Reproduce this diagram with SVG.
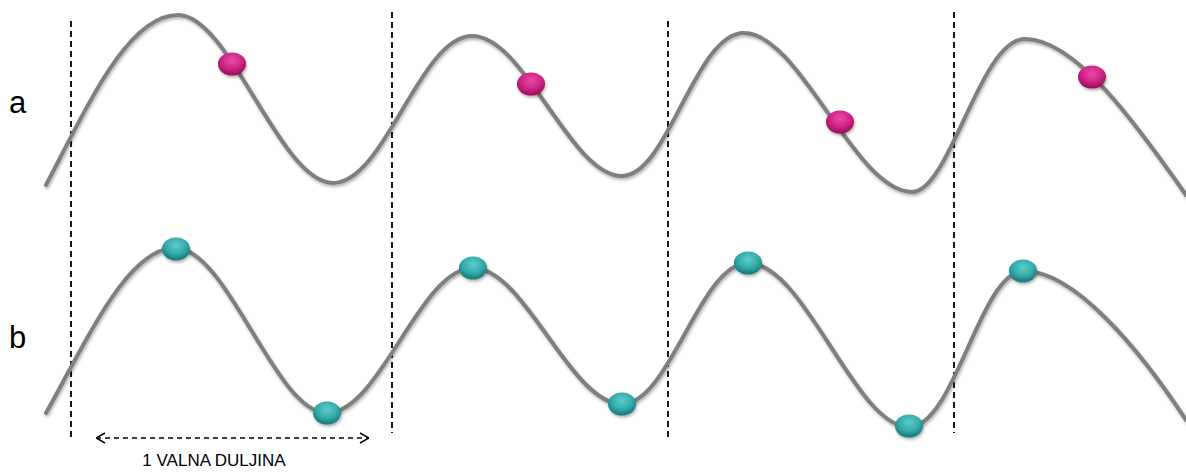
<svg xmlns="http://www.w3.org/2000/svg" width="1186" height="476" viewBox="0 0 1186 476">
<defs>
<filter id="sh" x="-10%" y="-10%" width="120%" height="130%">
<feDropShadow dx="1" dy="2" stdDeviation="1.5" flood-color="#000" flood-opacity="0.3"/>
</filter>
<radialGradient id="gm" cx="0.5" cy="0.35" r="0.6">
<stop offset="0" stop-color="#e84aa8"/>
<stop offset="0.6" stop-color="#d02588"/>
<stop offset="1" stop-color="#a0105f"/>
</radialGradient>
<radialGradient id="gt" cx="0.5" cy="0.35" r="0.6">
<stop offset="0" stop-color="#5ccccc"/>
<stop offset="0.6" stop-color="#35acac"/>
<stop offset="1" stop-color="#1a7e80"/>
</radialGradient>
<marker id="chev" viewBox="0 0 10 12" refX="10" refY="6" markerWidth="10" markerHeight="12" markerUnits="userSpaceOnUse" orient="auto-start-reverse">
<path d="M1,1 L10,6 L1,11" fill="none" stroke="#000" stroke-width="1.5"/>
</marker>
<style>
.wave{fill:none;stroke:#7f7f7f;stroke-width:4;stroke-linecap:round;filter:url(#sh)}
.dash{stroke:#000;stroke-width:1.8;stroke-dasharray:6,4}
.pm{fill:url(#gm);filter:url(#sh)}
.pt{fill:url(#gt);filter:url(#sh)}
.lbl{font-family:"Liberation Sans",Arial,sans-serif;fill:#000}
</style>
</defs>
<rect width="1186" height="476" fill="#fff"/>
<g id="guides">
<line class="dash" x1="71" y1="21" x2="71" y2="441"/>
<line class="dash" x1="392" y1="12" x2="392" y2="433"/>
<line class="dash" x1="668" y1="21" x2="668" y2="441"/>
<line class="dash" x1="954" y1="12" x2="954" y2="433"/>
</g>
<g id="wave-a">
<path class="wave" d="M46,185 C88,105 128,15 178,15 C230,15 280,183 333,183 C385,183 420,36 472,36 C525,36 570,176 622,176 C668,176 695,33 744,33 C800,33 855,192 912,192 C950,192 980,39 1025,39 C1075,39 1135,122 1186,195"/>
<ellipse class="pm" cx="232" cy="64" rx="14" ry="11.5"/>
<ellipse class="pm" cx="531" cy="84" rx="14" ry="11.5"/>
<ellipse class="pm" cx="840" cy="122" rx="14" ry="11.5"/>
<ellipse class="pm" cx="1092" cy="77" rx="14" ry="11.5"/>
</g>
<g id="wave-b">
<path class="wave" d="M46,413 C88,338 128,248 175,248 C228,248 275,413 327,413 C380,413 420,268 473,268 C525,268 570,404 622,404 C670,404 700,263 748,263 C805,263 855,427 909,427 C955,427 980,271 1024,271 C1075,271 1140,350 1186,420"/>
<ellipse class="pt" cx="176" cy="249" rx="14" ry="11.5"/>
<ellipse class="pt" cx="327" cy="413" rx="14" ry="11.5"/>
<ellipse class="pt" cx="473" cy="268" rx="14" ry="11.5"/>
<ellipse class="pt" cx="622" cy="404" rx="14" ry="11.5"/>
<ellipse class="pt" cx="748" cy="263" rx="14" ry="11.5"/>
<ellipse class="pt" cx="909" cy="426" rx="14" ry="11.5"/>
<ellipse class="pt" cx="1023" cy="271" rx="14" ry="11.5"/>
</g>
<g id="connectors">
<line x1="96" y1="438" x2="369" y2="438" stroke="#000" stroke-width="1.5" stroke-dasharray="5,4" marker-start="url(#chev)" marker-end="url(#chev)"/>
</g>
<g id="labels">
<text class="lbl" x="9" y="113" font-size="31">a</text>
<text class="lbl" x="9" y="348" font-size="31">b</text>
<text class="lbl" x="214" y="466" font-size="17" text-anchor="middle">1 VALNA DULJINA</text>
</g>
</svg>
